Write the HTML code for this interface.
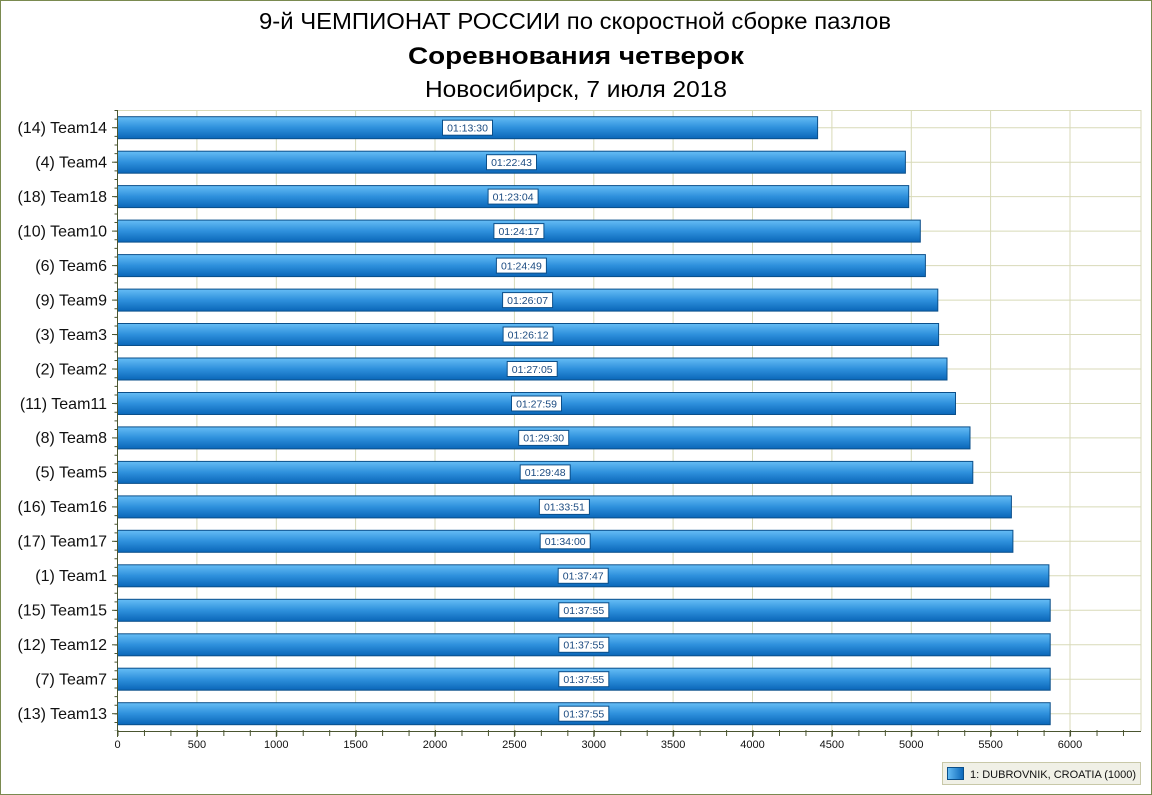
<!DOCTYPE html>
<html><head><meta charset="utf-8"><style>
html,body{margin:0;padding:0;background:#fff}
svg{display:block}
text{font-family:"Liberation Sans","DejaVu Sans",sans-serif}
.cat{font-size:16px;text-anchor:end;fill:#111}
.tk{font-size:11px;text-anchor:middle;fill:#111}
.lb{font-size:10.5px;text-anchor:middle;fill:#1a4a80}
</style></head><body>
<svg width="1152" height="795" viewBox="0 0 1152 795" xmlns="http://www.w3.org/2000/svg">
<defs>
<linearGradient id="g" x1="0" y1="0" x2="0" y2="1">
<stop offset="0" stop-color="#66bdf5"/><stop offset="0.5" stop-color="#2e90dc"/><stop offset="1" stop-color="#0a66b8"/>
</linearGradient>
<linearGradient id="gl" x1="0" y1="0" x2="1" y2="0">
<stop offset="0" stop-color="#66bdf5"/><stop offset="1" stop-color="#0a66b8"/>
</linearGradient>
<g id="mt"><line x1="114" y1="0" x2="117.5" y2="0"/></g>
</defs>
<rect x="0.5" y="0.5" width="1151" height="794" fill="#fff" stroke="#7a8a50"/>
<text x="575" y="29" font-size="23" text-anchor="middle" textLength="632" lengthAdjust="spacingAndGlyphs">9-й ЧЕМПИОНАТ РОССИИ по скоростной сборке пазлов</text>
<text x="576" y="64" font-size="24" font-weight="bold" text-anchor="middle" textLength="336" lengthAdjust="spacingAndGlyphs">Соревнования четверок</text>
<text x="576" y="97" font-size="23" text-anchor="middle" textLength="302" lengthAdjust="spacingAndGlyphs">Новосибирск, 7 июля 2018</text>
<!-- grid -->
<g stroke="#d8dab8" stroke-width="1">
<line x1="196.9" y1="110" x2="196.9" y2="731"/><line x1="276.3" y1="110" x2="276.3" y2="731"/><line x1="355.6" y1="110" x2="355.6" y2="731"/><line x1="435" y1="110" x2="435" y2="731"/><line x1="514.4" y1="110" x2="514.4" y2="731"/><line x1="593.8" y1="110" x2="593.8" y2="731"/><line x1="673.1" y1="110" x2="673.1" y2="731"/><line x1="752.5" y1="110" x2="752.5" y2="731"/><line x1="831.9" y1="110" x2="831.9" y2="731"/><line x1="911.3" y1="110" x2="911.3" y2="731"/><line x1="990.6" y1="110" x2="990.6" y2="731"/><line x1="1070" y1="110" x2="1070" y2="731"/>
<line x1="117.5" y1="110.5" x2="1141" y2="110.5"/><line x1="1141" y1="110" x2="1141" y2="731"/>
<line x1="117.5" y1="127.7" x2="1141" y2="127.7"/><line x1="117.5" y1="162.2" x2="1141" y2="162.2"/><line x1="117.5" y1="196.6" x2="1141" y2="196.6"/><line x1="117.5" y1="231.1" x2="1141" y2="231.1"/><line x1="117.5" y1="265.6" x2="1141" y2="265.6"/><line x1="117.5" y1="300.1" x2="1141" y2="300.1"/><line x1="117.5" y1="334.5" x2="1141" y2="334.5"/><line x1="117.5" y1="369" x2="1141" y2="369"/><line x1="117.5" y1="403.5" x2="1141" y2="403.5"/><line x1="117.5" y1="437.9" x2="1141" y2="437.9"/><line x1="117.5" y1="472.4" x2="1141" y2="472.4"/><line x1="117.5" y1="506.9" x2="1141" y2="506.9"/><line x1="117.5" y1="541.3" x2="1141" y2="541.3"/><line x1="117.5" y1="575.8" x2="1141" y2="575.8"/><line x1="117.5" y1="610.3" x2="1141" y2="610.3"/><line x1="117.5" y1="644.8" x2="1141" y2="644.8"/><line x1="117.5" y1="679.2" x2="1141" y2="679.2"/><line x1="117.5" y1="713.7" x2="1141" y2="713.7"/>
</g>
<!-- bars -->
<g fill="url(#g)" stroke="#0b4f8a" stroke-width="1">
<rect x="117.5" y="116.7" width="700.1" height="22"/>
<rect x="117.5" y="151.2" width="787.9" height="22"/>
<rect x="117.5" y="185.6" width="791.2" height="22"/>
<rect x="117.5" y="220.1" width="802.8" height="22"/>
<rect x="117.5" y="254.6" width="807.9" height="22"/>
<rect x="117.5" y="289.1" width="820.3" height="22"/>
<rect x="117.5" y="323.5" width="821.1" height="22"/>
<rect x="117.5" y="358" width="829.5" height="22"/>
<rect x="117.5" y="392.5" width="838" height="22"/>
<rect x="117.5" y="426.9" width="852.5" height="22"/>
<rect x="117.5" y="461.4" width="855.3" height="22"/>
<rect x="117.5" y="495.9" width="893.9" height="22"/>
<rect x="117.5" y="530.3" width="895.4" height="22"/>
<rect x="117.5" y="564.8" width="931.4" height="22"/>
<rect x="117.5" y="599.3" width="932.7" height="22"/>
<rect x="117.5" y="633.8" width="932.7" height="22"/>
<rect x="117.5" y="668.2" width="932.7" height="22"/>
<rect x="117.5" y="702.7" width="932.7" height="22"/>
</g>
<!-- value labels -->
<g fill="#fff" stroke="#0b4f8a" stroke-width="1">
<rect x="442.5" y="120.2" width="50" height="15"/>
<rect x="486.5" y="154.7" width="50" height="15"/>
<rect x="488.1" y="189.1" width="50" height="15"/>
<rect x="493.9" y="223.6" width="50" height="15"/>
<rect x="496.4" y="258.1" width="50" height="15"/>
<rect x="502.6" y="292.6" width="50" height="15"/>
<rect x="503.1" y="327" width="50" height="15"/>
<rect x="507.2" y="361.5" width="50" height="15"/>
<rect x="511.5" y="396" width="50" height="15"/>
<rect x="518.7" y="430.4" width="50" height="15"/>
<rect x="520.2" y="464.9" width="50" height="15"/>
<rect x="539.4" y="499.4" width="50" height="15"/>
<rect x="540.2" y="533.8" width="50" height="15"/>
<rect x="558.2" y="568.3" width="50" height="15"/>
<rect x="558.8" y="602.8" width="50" height="15"/>
<rect x="558.8" y="637.3" width="50" height="15"/>
<rect x="558.8" y="671.7" width="50" height="15"/>
<rect x="558.8" y="706.2" width="50" height="15"/>
</g>
<g class="lb">
<text class="lb" x="467.5" y="131.5">01:13:30</text>
<text class="lb" x="511.5" y="166">01:22:43</text>
<text class="lb" x="513.1" y="200.4">01:23:04</text>
<text class="lb" x="518.9" y="234.9">01:24:17</text>
<text class="lb" x="521.4" y="269.4">01:24:49</text>
<text class="lb" x="527.6" y="303.9">01:26:07</text>
<text class="lb" x="528.1" y="338.3">01:26:12</text>
<text class="lb" x="532.2" y="372.8">01:27:05</text>
<text class="lb" x="536.5" y="407.3">01:27:59</text>
<text class="lb" x="543.7" y="441.7">01:29:30</text>
<text class="lb" x="545.2" y="476.2">01:29:48</text>
<text class="lb" x="564.4" y="510.7">01:33:51</text>
<text class="lb" x="565.2" y="545.1">01:34:00</text>
<text class="lb" x="583.2" y="579.6">01:37:47</text>
<text class="lb" x="583.8" y="614.1">01:37:55</text>
<text class="lb" x="583.8" y="648.6">01:37:55</text>
<text class="lb" x="583.8" y="683">01:37:55</text>
<text class="lb" x="583.8" y="717.5">01:37:55</text>
</g>
<!-- axes -->
<g stroke="#4a5530" stroke-width="1">
<line x1="117.5" y1="110" x2="117.5" y2="731"/>
<line x1="117.5" y1="731.5" x2="1141" y2="731.5"/>
<line x1="112" y1="127.7" x2="117.5" y2="127.7"/><line x1="112" y1="162.2" x2="117.5" y2="162.2"/><line x1="112" y1="196.6" x2="117.5" y2="196.6"/><line x1="112" y1="231.1" x2="117.5" y2="231.1"/><line x1="112" y1="265.6" x2="117.5" y2="265.6"/><line x1="112" y1="300.1" x2="117.5" y2="300.1"/><line x1="112" y1="334.5" x2="117.5" y2="334.5"/><line x1="112" y1="369" x2="117.5" y2="369"/><line x1="112" y1="403.5" x2="117.5" y2="403.5"/><line x1="112" y1="437.9" x2="117.5" y2="437.9"/><line x1="112" y1="472.4" x2="117.5" y2="472.4"/><line x1="112" y1="506.9" x2="117.5" y2="506.9"/><line x1="112" y1="541.3" x2="117.5" y2="541.3"/><line x1="112" y1="575.8" x2="117.5" y2="575.8"/><line x1="112" y1="610.3" x2="117.5" y2="610.3"/><line x1="112" y1="644.8" x2="117.5" y2="644.8"/><line x1="112" y1="679.2" x2="117.5" y2="679.2"/><line x1="112" y1="713.7" x2="117.5" y2="713.7"/>
<line x1="117.5" y1="731" x2="117.5" y2="737"/><line x1="196.9" y1="731" x2="196.9" y2="737"/><line x1="276.3" y1="731" x2="276.3" y2="737"/><line x1="355.6" y1="731" x2="355.6" y2="737"/><line x1="435" y1="731" x2="435" y2="737"/><line x1="514.4" y1="731" x2="514.4" y2="737"/><line x1="593.8" y1="731" x2="593.8" y2="737"/><line x1="673.1" y1="731" x2="673.1" y2="737"/><line x1="752.5" y1="731" x2="752.5" y2="737"/><line x1="831.9" y1="731" x2="831.9" y2="737"/><line x1="911.3" y1="731" x2="911.3" y2="737"/><line x1="990.6" y1="731" x2="990.6" y2="737"/><line x1="1070" y1="731" x2="1070" y2="737"/>
</g>
<g stroke="#4a5530" stroke-width="1" stroke-dasharray="2 24.46" stroke-dashoffset="-25.46">
<line x1="117.5" y1="732" x2="1141" y2="732" stroke-width="6" stroke-dasharray="1 25.46" stroke-dashoffset="-26.46" transform="translate(0,1)"/>
</g>
<g stroke="#4a5530" stroke-width="3" stroke-dasharray="1 7.62">
<line x1="116" y1="110" x2="116" y2="731"/>
</g>
<!-- category labels -->
<text class="cat" x="107" y="133">(14) Team14</text>
<text class="cat" x="107" y="167.5">(4) Team4</text>
<text class="cat" x="107" y="201.9">(18) Team18</text>
<text class="cat" x="107" y="236.4">(10) Team10</text>
<text class="cat" x="107" y="270.9">(6) Team6</text>
<text class="cat" x="107" y="305.4">(9) Team9</text>
<text class="cat" x="107" y="339.8">(3) Team3</text>
<text class="cat" x="107" y="374.3">(2) Team2</text>
<text class="cat" x="107" y="408.8">(11) Team11</text>
<text class="cat" x="107" y="443.2">(8) Team8</text>
<text class="cat" x="107" y="477.7">(5) Team5</text>
<text class="cat" x="107" y="512.2">(16) Team16</text>
<text class="cat" x="107" y="546.6">(17) Team17</text>
<text class="cat" x="107" y="581.1">(1) Team1</text>
<text class="cat" x="107" y="615.6">(15) Team15</text>
<text class="cat" x="107" y="650.1">(12) Team12</text>
<text class="cat" x="107" y="684.5">(7) Team7</text>
<text class="cat" x="107" y="719">(13) Team13</text>
<!-- x tick labels -->
<text class="tk" x="117.5" y="748">0</text>
<text class="tk" x="196.9" y="748">500</text>
<text class="tk" x="276.3" y="748">1000</text>
<text class="tk" x="355.6" y="748">1500</text>
<text class="tk" x="435" y="748">2000</text>
<text class="tk" x="514.4" y="748">2500</text>
<text class="tk" x="593.8" y="748">3000</text>
<text class="tk" x="673.1" y="748">3500</text>
<text class="tk" x="752.5" y="748">4000</text>
<text class="tk" x="831.9" y="748">4500</text>
<text class="tk" x="911.3" y="748">5000</text>
<text class="tk" x="990.6" y="748">5500</text>
<text class="tk" x="1070" y="748">6000</text>
<!-- legend -->
<rect x="942.5" y="762.5" width="198" height="22" fill="#f0f0e6" stroke="#c8c8a8"/>
<rect x="947.5" y="767.5" width="16" height="12" fill="url(#gl)" stroke="#0b4f8a"/>
<text x="970" y="778" font-size="11" fill="#111">1: DUBROVNIK, CROATIA (1000)</text>
</svg>
</body></html>
